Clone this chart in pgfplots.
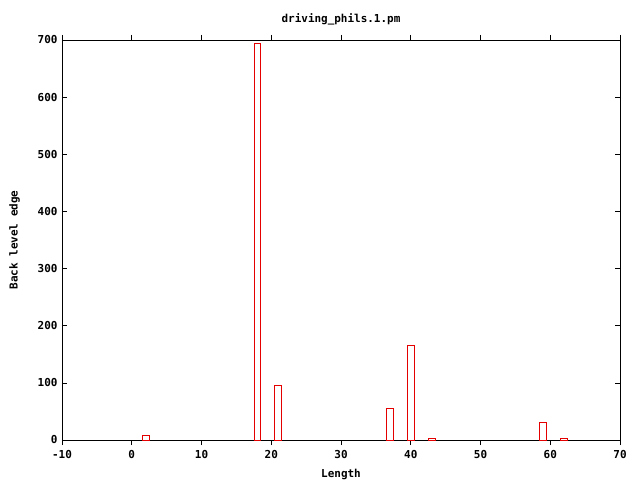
\documentclass[border=0pt]{standalone}
\usepackage{fontspec}
\setmainfont{DejaVu Sans Mono}
\setmonofont{DejaVu Sans Mono}
\usepackage{pgfplots}
\pgfplotsset{compat=1.18}
\begin{document}
\begin{tikzpicture}
\begin{axis}[
  name=ax,
  scale only axis,
  width=558bp, height=400bp,
  xmin=-10, xmax=70, ymin=0, ymax=700,
  xtick={-10,0,...,70}, ytick={0,100,...,700},
  tick align=inside,
  major tick length=5bp,
  tick style={black, line width=0.6pt},
  axis line style={black, line width=0.6pt},
  /pgf/number format/assume math mode=true,
  tick label style={font=\fontsize{11}{12}\selectfont\bfseries},
  label style={font=\fontsize{11}{12}\selectfont\bfseries},
  title style={font=\fontsize{11}{12}\selectfont\bfseries},
  title={driving\_phils.1.pm},
  xlabel={Length},
  ylabel={Back level edge},
  xticklabel style={yshift=-2bp},
  yticklabel style={xshift=-1bp},
  xlabel style={yshift=-4bp},
  ylabel style={yshift=11bp},
  title style={yshift=5bp},
  ybar, bar width=1, bar shift=0pt,
]
\addplot[draw=red!90!black, fill=white, line width=0.6pt] coordinates {
 (2,8) (18,695) (21,96) (37,55) (40,166) (43,3) (59,31) (62,3)
};
\end{axis}
\path ([shift={(-62bp,-40bp)}]ax.south west) rectangle ([shift={(20bp,40bp)}]ax.north east);
\end{tikzpicture}
\end{document}
